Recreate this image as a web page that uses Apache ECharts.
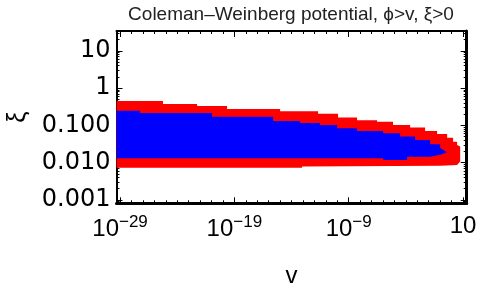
<!DOCTYPE html>
<html>
<head>
<meta charset="utf-8">
<script src="https://cdn.jsdelivr.net/npm/echarts@6/dist/echarts.min.js"></script>
<style>html,body{margin:0;padding:0;background:#fff}#c{width:480px;height:289px}</style>
</head>
<body>
<div id="c"></div>
<script>
// Axis ranges (log10 units)
const xRange = [-29.31, 1.32];   // log10 v
const yRange = [-3.09, 1.53];    // log10 xi
// Tick labels
const xTickExps = [-29, -19, -9, 1];
const yTickExps = [-3, -2, -1, 0, 1];
const yTickLabels = ['0.001', '0.010', '0.100', '1', '10'];
// Region boundaries, [log10 v, log10 xi]
const redUpper = [[-29.31,-0.35],[-25.24,-0.35],[-25.24,-0.43],[-22.26,-0.43],[-22.26,-0.48],[-19.64,-0.48],[-19.64,-0.56],[-15.0,-0.56],[-15.0,-0.62],[-11.68,-0.62],[-11.68,-0.69],[-9.93,-0.69],[-9.93,-0.79],[-8.27,-0.79],[-8.27,-0.86],[-6.52,-0.86],[-6.52,-0.90],[-5.12,-0.90],[-5.12,-0.99],[-3.63,-0.99],[-3.63,-1.06],[-2.32,-1.06],[-2.32,-1.15],[-1.27,-1.15],[-1.27,-1.23],[-0.39,-1.23],[-0.39,-1.33],[0.13,-1.33],[0.13,-1.44],[0.48,-1.44],[0.48,-1.53],[0.75,-1.57],[0.75,-1.97],[0.48,-2.06]];
const redLower = [[-1.0,-2.08],[-13.08,-2.10],[-13.08,-2.14],[-29.31,-2.14]];
const blueUpper = [[-29.31,-0.61],[-27.25,-0.61],[-27.25,-0.67],[-20.95,-0.67],[-20.95,-0.77],[-15.61,-0.77],[-15.61,-0.88],[-13.25,-0.88],[-13.25,-0.94],[-11.5,-0.94],[-11.5,-0.99],[-10.01,-0.99],[-10.01,-1.08],[-8.27,-1.08],[-8.27,-1.15],[-5.99,-1.15],[-5.99,-1.21],[-4.5,-1.21],[-4.5,-1.30],[-3.19,-1.30],[-3.19,-1.39],[-1.88,-1.39],[-1.88,-1.51],[-1.0,-1.51],[-1.0,-1.61],[-0.39,-1.72]];
const blueLower = [[-1.0,-1.79],[-1.88,-1.84],[-3.89,-1.84],[-3.89,-1.93],[-5.99,-1.93],[-5.99,-1.88],[-29.31,-1.88]];

const FONT = 'Liberation Sans, Arial, Helvetica, sans-serif';
const YFONT = 'DejaVu Sans, Liberation Sans, sans-serif';
const xMinor = [];
for (let e = Math.ceil(xRange[0]); e <= Math.floor(xRange[1]); e++) xMinor.push(e);
const yMinor = [];
for (let n = -4; n <= 1; n++) for (let k = 1; k <= 9; k++) {
  const v = n + Math.log10(k);
  if (v >= yRange[0] && v <= yRange[1]) yMinor.push(v);
}
const redPoly = redUpper.concat(redLower);
const bluePoly = blueUpper.concat(blueLower);

function xFmt(v) {
  const e = Math.round(v);
  if (e === 1) return '{b|10}';
  return '{b|10}{s|' + (e < 0 ? '\u2212' : '') + Math.abs(e) + '}';
}
function yFmt(v) {
  const i = yTickExps.indexOf(Math.round(v));
  return i >= 0 ? yTickLabels[i] : '';
}
function xAx(pos, major, lineW, withLabel) {
  return {
    type: 'value', min: xRange[0], max: xRange[1], position: pos,
    axisLine: { show: lineW > 0, onZero: false, lineStyle: { color: '#000', width: lineW } },
    axisTick: { show: true, inside: true, length: major ? 6 : 3, customValues: major ? xTickExps : xMinor, lineStyle: { color: '#000', width: 1 } },
    axisLabel: withLabel ? {
      show: true, customValues: xTickExps, formatter: xFmt, margin: 11,
      rich: {
        b: { fontSize: 24, fontFamily: FONT, color: '#000' },
        s: { fontSize: 17, fontFamily: FONT, color: '#000', padding: [0, 0, 14, 0] }
      }
    } : { show: false },
    splitLine: { show: false },
    name: withLabel ? 'v' : '', nameLocation: 'middle', nameGap: 61,
    nameTextStyle: { fontSize: 24, fontFamily: FONT, color: '#000' }
  };
}
function yAx(pos, major, lineW, withLabel) {
  return {
    type: 'value', min: yRange[0], max: yRange[1], position: pos,
    axisLine: { show: lineW > 0, onZero: false, lineStyle: { color: '#000', width: lineW } },
    axisTick: { show: true, inside: true, length: major ? 6 : 3, customValues: major ? yTickExps : yMinor, lineStyle: { color: '#000', width: 1 } },
    axisLabel: withLabel ? { show: true, customValues: yTickExps, formatter: yFmt, margin: 6, fontSize: 24, fontFamily: YFONT, color: '#000' } : { show: false },
    splitLine: { show: false },
    name: withLabel ? '\u03be' : '', nameLocation: 'middle', nameGap: 86, nameRotate: 90,
    nameTextStyle: { fontSize: 25, fontFamily: FONT, color: '#000' }
  };
}
function poly(points, color) {
  return {
    type: 'custom', xAxisIndex: 0, yAxisIndex: 0, silent: true, clip: true,
    data: points,
    renderItem: function (params, api) {
      if (params.dataIndex !== 0) return null;
      return { type: 'polygon', shape: { points: points.map(p => api.coord(p)) }, style: { fill: color } };
    }
  };
}
const chart = echarts.init(document.getElementById('c'), null, { renderer: 'canvas' });
chart.setOption({
  animation: false,
  backgroundColor: '#fff',
  grid: { left: 116.5, right: 13.3, top: 31, bottom: 85.7, containLabel: false, outerBoundsMode: 'none' },
  xAxis: [xAx('bottom', true, 3, true), xAx('bottom', false, 0, false), xAx('top', true, 2, false), xAx('top', false, 0, false)],
  yAxis: [yAx('left', true, 2, true), yAx('left', false, 0, false), yAx('right', true, 3, false), yAx('right', false, 0, false)],
  graphic: [{ type: 'text', x: 291, y: 5, style: { text: 'Coleman\u2013Weinberg potential, \u03d5>v, \u03be>0', fontSize: 19, fontFamily: FONT, fill: '#222', textAlign: 'center', textVerticalAlign: 'top' } }],
  series: [poly(redPoly, '#ff0000'), poly(bluePoly, '#0000ff')]
});
</script>
</body>
</html>
